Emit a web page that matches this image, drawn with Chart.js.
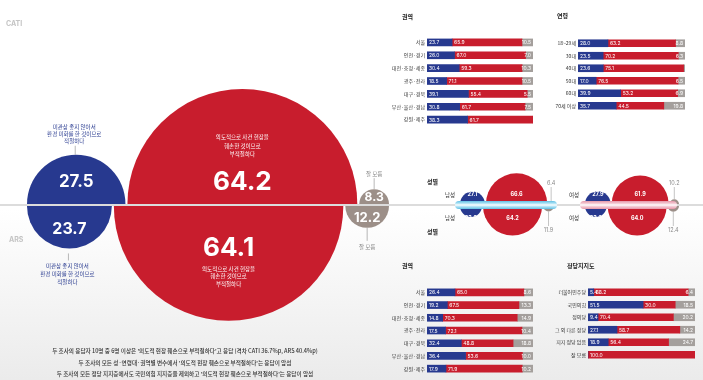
<!DOCTYPE html>
<html>
<head>
<meta charset="utf-8">
<script src="https://cdn.jsdelivr.net/npm/chart.js@4.4.0/dist/chart.umd.min.js"></script>
<style>
  html, body { margin: 0; padding: 0; }
  body {
    width: 703px; height: 380px; overflow: hidden; position: relative;
    background: linear-gradient(to bottom, #ffffff 0%, #ffffff 55%, #ebebeb 100%);
    font-family: "Noto Sans CJK KR", "Noto Sans", sans-serif;
  }
  canvas, .txt, .band, .hline { position: absolute; }
  .txt { white-space: nowrap; }
  .ttl { font-size: 6px; font-weight: 700; color: #222; }
  .sub { font-size: 5.5px; color: #333; }
  .mode { font-size: 7px; font-weight: 700; color: #c4c4c4; font-family: Inter, sans-serif; }
</style>
</head>
<body>
<canvas id="bubbleTop" width="703" height="204" style="left:0;top:0"></canvas>
<canvas id="bubbleBottom" width="703" height="174" style="left:0;top:206px"></canvas>
<div class="hline" style="left:0;top:204px;width:703px;height:2px;background:#dcdcdc"></div>

<canvas id="regionCati" width="173" height="100" style="left:360px;top:31px"></canvas>
<canvas id="ageCati" width="155" height="85" style="left:530px;top:32px"></canvas>
<canvas id="regionArs" width="173" height="99" style="left:360px;top:281px"></canvas>
<canvas id="partyArs" width="155" height="85" style="left:540px;top:281px"></canvas>

<div class="txt ttl" style="left:402px;top:12px">권역</div>
<div class="txt ttl" style="left:557px;top:11px">연령</div>
<div class="txt ttl" style="left:402px;top:261px">권역</div>
<div class="txt ttl" style="left:567px;top:261px">정당지지도</div>

<div class="txt mode" style="left:6px;top:19px">CATI</div>
<div class="txt mode" style="left:9px;top:235px">ARS</div>

<div class="band" style="left:455px;top:201px;width:102px;height:8px;border-radius:4px;background:linear-gradient(to bottom,#5fbfe4 0%,#bfe9f8 35%,#ffffff 50%,#bfe9f8 65%,#5fbfe4 100%)"></div>
<div class="band" style="left:580px;top:201px;width:97px;height:8px;border-radius:4px;background:linear-gradient(to bottom,#e596a8 0%,#f6d3db 35%,#ffffff 50%,#f6d3db 65%,#e596a8 100%)"></div>

<div class="txt ttl" style="left:427px;top:177px">성별</div>
<div class="txt ttl" style="left:427px;top:227px">성별</div>
<div class="txt sub" style="left:445px;top:191px">남성</div>
<div class="txt sub" style="left:445px;top:214px">남성</div>
<div class="txt sub" style="left:569px;top:191px">여성</div>
<div class="txt sub" style="left:569px;top:214px">여성</div>

<div class="txt" style="left:0;top:346px;width:370px;text-align:center;font-size:5.6px;line-height:11.5px;color:#333;font-weight:500">
두 조사의 응답자 10명 중 6명 이상은 '의도적 현장 훼손으로 부적절하다'고 응답 (격차 CATI 36.7%p, ARS 40.4%p)<br>
두 조사의 모든 성·연령대·권역별 변수에서 '의도적 현장 훼손으로 부적절하다'는 응답이 앞섬<br>
두 조사의 모든 정당 지지층에서도 국민의힘 지지층을 제외하고 '의도적 현장 훼손으로 부적절하다'는 응답이 앞섬
</div>

<script>
// 전체 / 성별 응답 (%)
var groups = ['전체', '남성', '여성'];
var catiAgree = [27.5, 27.1, 27.9];
var catiOppose = [64.2, 66.6, 61.9];
var catiDontKnow = [8.3, 6.4, 10.2];
var arsAgree = [23.7, 23.9, 23.6];
var arsOppose = [64.1, 64.2, 64.0];
var arsDontKnow = [12.2, 11.9, 12.4];

// 권역 (CATI)
var regions = ['서울', '인천·경기', '대전·충청·세종', '광주·전라', '대구·경북', '부산·울산·경남', '강원·제주'];
var regionCatiAgree = [23.7, 26.0, 30.4, 18.5, 39.1, 30.8, 38.3];
var regionCatiOppose = [65.9, 67.0, 59.3, 71.1, 55.4, 61.7, 61.7];
var regionCatiDk = [10.5, 7.0, 10.3, 10.5, 5.5, 7.5, 0];

// 연령 (CATI)
var ages = ['18~29세', '30대', '40대', '50대', '60대', '70세 이상'];
var ageAgree = [28.0, 23.5, 23.6, 17.0, 39.9, 35.7];
var ageOppose = [63.2, 70.2, 75.1, 76.5, 53.2, 44.5];
var ageDk = [8.8, 6.3, 1.3, 6.5, 6.9, 19.8];

// 권역 (ARS)
var regionArsAgree = [26.4, 19.2, 14.8, 17.5, 32.4, 36.4, 17.9];
var regionArsOppose = [65.0, 67.5, 70.3, 72.1, 48.8, 53.6, 71.9];
var regionArsDk = [8.6, 13.3, 14.9, 10.4, 18.8, 10.0, 10.2];

// 정당지지도 (ARS)
var parties = ['더불어민주당', '국민의힘', '정의당', '그 외 다른 정당', '지지 정당 없음', '잘 모름'];
var partyAgree = [5.4, 51.5, 9.4, 27.1, 18.9, 0];
var partyOppose = [88.2, 30.0, 70.4, 58.7, 56.4, 100.0];
var partyDk = [6.4, 18.5, 20.2, 14.2, 24.7, 0];

var agreeCaption = ['미관상 좋지 않아서', '환경 미화를 한 것이므로', '적절하다'];
var opposeCaption = ['의도적으로 사건 현장을', '훼손한 것이므로', '부적절하다'];

var BLUE = '#27398f';
var RED = '#c81d2d';
var GRAY = '#9c8f88';
var BAR_GRAY = '#a49f9c';
var KR = '"Noto Sans CJK KR", sans-serif';
var NUM = 'Inter, "Open Sans", sans-serif';

// layout of the circle groups (px)
var groupStart = [27, 460, 585];
var groupScale = [1.79, 0.46, 0.46];
var groupGap = [2, 1, 1];

function bubblePoints(agree, oppose, dk, yPos) {
  var b = [], r = [], g = [];
  for (var i = 0; i < groups.length; i++) {
    var k = groupScale[i];
    var rb = agree[i] * k, rr = oppose[i] * k, rg = dk[i] * k;
    var x = groupStart[i];
    b.push({x: x + rb, y: yPos, r: rb, v: agree[i], g: i});
    x += 2 * rb + groupGap[i];
    r.push({x: x + rr, y: yPos, r: rr, v: oppose[i], g: i});
    x += 2 * rr + groupGap[i];
    g.push({x: x + rg, y: yPos, r: rg, v: dk[i], g: i});
  }
  return [b, r, g];
}

function tick(ctx, x, y1, y2, color) {
  ctx.strokeStyle = color;
  ctx.lineWidth = 0.7;
  ctx.beginPath();
  ctx.moveTo(x, y1);
  ctx.lineTo(x, y2);
  ctx.stroke();
}

var bubbleLabels = {
  id: 'bubbleLabels',
  afterDatasetsDraw: function(chart, args, opts) {
    var ctx = chart.ctx, side = opts.side;
    ctx.save();
    ctx.textAlign = 'center';
    ctx.textBaseline = 'middle';
    chart.data.datasets.forEach(function(ds, di) {
      chart.getDatasetMeta(di).data.forEach(function(el, i) {
        var p = ds.data[i], r = p.r, x = el.x, y = el.y;
        if (p.g === 0) {
          var size = 10 + r * 0.14;
          var dy = side < 0 ? -Math.min(r * 0.45, 22) : (r < 50 ? r * 0.55 : r * 0.37);
          ctx.fillStyle = '#fff';
          ctx.font = 'bold ' + size + 'px ' + NUM;
          ctx.fillText(p.v.toFixed(1), x, y + dy);
          ctx.font = '5.5px ' + KR;
          if (di === 0) {
            ctx.fillStyle = BLUE;
            for (var j = 0; j < 3; j++) {
              var ly = side < 0 ? y - r - 14 - (2 - j) * 7 : y + r + 17 + j * 8;
              ctx.fillText(agreeCaption[j], x - 2, ly);
            }
            if (side < 0) tick(ctx, x - 1, y - r - 9, y - r, '#999');
            else tick(ctx, x - 1, y + r + 5, y + r + 12, '#999');
          } else if (di === 1) {
            ctx.fillStyle = '#fff';
            for (var m = 0; m < 3; m++) {
              var cy = side < 0 ? y + dy - 28 - (2 - m) * 8.5 : y + dy + 20 + m * 7.5;
              ctx.fillText(opposeCaption[m], x, cy);
            }
          } else {
            ctx.fillStyle = '#8a8a8a';
            if (side < 0) {
              ctx.fillText('잘 모름', x, y - r - 15);
              tick(ctx, x, y - r - 11, y - r, '#999');
            } else {
              ctx.fillText('잘 모름', x, y + r + 19);
              tick(ctx, x, y + r, y + r + 13, '#999');
            }
          }
        } else {
          if (di === 2) {
            ctx.fillStyle = '#8a8a8a';
            ctx.font = '5.5px ' + NUM;
            if (side < 0) {
              ctx.fillText(p.v.toFixed(1), x, y - 21);
              tick(ctx, x, y - 17, y - r, '#aaa');
            } else {
              ctx.fillText(p.v.toFixed(1), x, y + 24);
              tick(ctx, x, y + r, y + 20, '#aaa');
            }
          } else {
            ctx.fillStyle = '#fff';
            ctx.font = 'bold 5.5px ' + NUM;
            ctx.fillText(p.v.toFixed(1), x, side < 0 ? y - 10 : y + 12);
          }
        }
      });
    });
    ctx.restore();
  }
};

function bubbleChart(id, pts, side) {
  return new Chart(document.getElementById(id), {
    type: 'bubble',
    data: {
      datasets: [
        {data: pts[0], backgroundColor: BLUE, borderWidth: 0, clip: 0},
        {data: pts[1], backgroundColor: RED, borderWidth: 0, clip: 0},
        {data: pts[2], backgroundColor: GRAY, borderWidth: 0, clip: 0}
      ]
    },
    options: {
      responsive: false,
      animation: false,
      events: [],
      layout: {padding: 0, autoPadding: false},
      plugins: {
        legend: {display: false},
        tooltip: {enabled: false},
        bubbleLabels: {side: side}
      },
      scales: {
        x: {type: 'linear', min: 0, max: 703, display: false},
        y: {type: 'linear', min: 0, max: 1, display: false}
      }
    },
    plugins: [bubbleLabels]
  });
}

bubbleChart('bubbleTop', bubblePoints(catiAgree, catiOppose, catiDontKnow, 0), -1);
bubbleChart('bubbleBottom', bubblePoints(arsAgree, arsOppose, arsDontKnow, 1), 1);

var barLabels = {
  id: 'barLabels',
  afterDatasetsDraw: function(chart) {
    var ctx = chart.ctx;
    ctx.save();
    ctx.font = '5px ' + NUM;
    ctx.fillStyle = '#fff';
    ctx.textBaseline = 'middle';
    chart.data.datasets.forEach(function(ds, di) {
      chart.getDatasetMeta(di).data.forEach(function(el, i) {
        var v = ds.data[i];
        if (v < 3) return;
        if (di === 2) {
          ctx.textAlign = 'right';
          ctx.fillText(v.toFixed(1), el.x - 2, el.y + 0.5);
        } else {
          ctx.textAlign = 'left';
          ctx.fillText(v.toFixed(1), el.base + 2, el.y + 0.5);
        }
      });
    });
    ctx.restore();
  }
};

function barChart(id, labels, a, o, d, axisW) {
  return new Chart(document.getElementById(id), {
    type: 'bar',
    data: {
      labels: labels,
      datasets: [
        {data: a, backgroundColor: BLUE},
        {data: o, backgroundColor: RED},
        {data: d, backgroundColor: BAR_GRAY}
      ]
    },
    options: {
      indexAxis: 'y',
      responsive: false,
      animation: false,
      events: [],
      layout: {padding: 0},
      datasets: {bar: {barThickness: 7, borderWidth: 0}},
      plugins: {legend: {display: false}, tooltip: {enabled: false}},
      scales: {
        x: {stacked: true, min: 0, max: 100, display: false},
        y: {
          stacked: true,
          grid: {display: false, drawTicks: false},
          border: {display: false},
          ticks: {padding: 2, color: '#333', font: {size: 5, family: KR}},
          afterFit: function(s) { s.width = axisW; }
        }
      }
    },
    plugins: [barLabels]
  });
}

barChart('regionCati', regions, regionCatiAgree, regionCatiOppose, regionCatiDk, 67);
barChart('ageCati', ages, ageAgree, ageOppose, ageDk, 48);
barChart('regionArs', regions, regionArsAgree, regionArsOppose, regionArsDk, 67);
barChart('partyArs', parties, partyAgree, partyOppose, partyDk, 48);
</script>
</body>
</html>
